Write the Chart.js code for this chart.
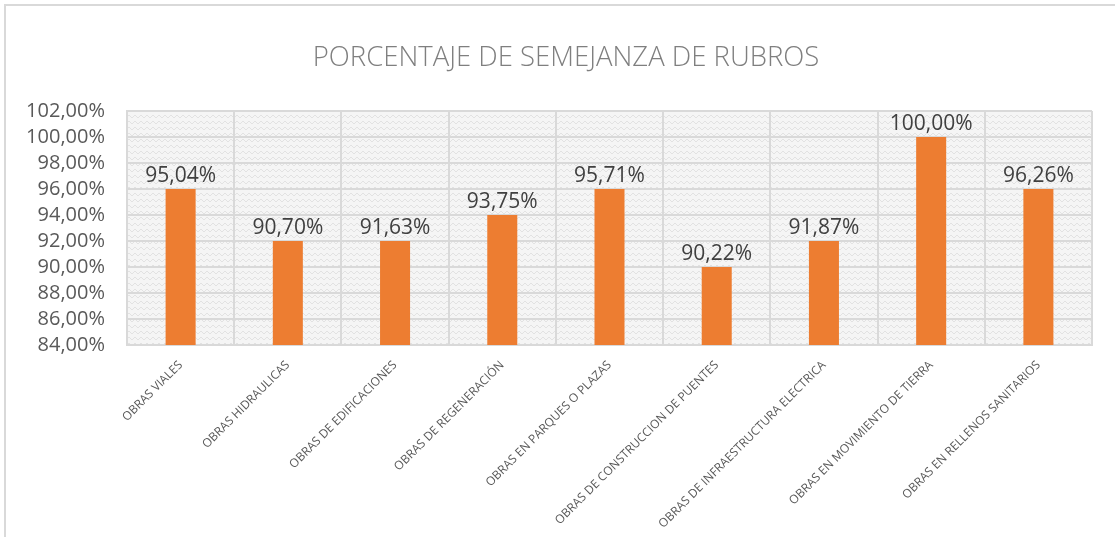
<!DOCTYPE html>
<html>
<head>
<meta charset="utf-8">
<script src="https://cdn.jsdelivr.net/npm/chart.js@4.4.1/dist/chart.umd.min.js"></script>
<style>
    html, body { margin: 0; padding: 0; background: #fff; overflow: hidden; }
    #frame { position: absolute; left: 4px; top: 4px; width: 1120px; height: 560px; border: 2px solid #d9d9d9; }
    #chart { position: absolute; left: 0; top: 0; }
</style>
</head>
<body>
<div id="frame"></div>
<canvas id="chart" width="1115" height="537"></canvas>
<script>
const categories = [
    'OBRAS VIALES',
    'OBRAS HIDRAULICAS',
    'OBRAS DE EDIFICACIONES',
    'OBRAS DE REGENERACIÓN',
    'OBRAS EN PARQUES O PLAZAS',
    'OBRAS DE CONSTRUCCION DE PUENTES',
    'OBRAS DE INFRAESTRUCTURA ELECTRICA',
    'OBRAS EN MOVIMIENTO DE TIERRA',
    'OBRAS EN RELLENOS SANITARIOS'
];
// bar heights as drawn in the picture
const barValues = [96, 92, 92, 94, 96, 90, 92, 100, 96];
// the labels printed above each bar
const barLabels = ['95,04%', '90,70%', '91,63%', '93,75%', '95,71%', '90,22%', '91,87%', '100,00%', '96,26%'];
const yMin = 84, yMax = 102, yStep = 2;
const chartTitle = 'PORCENTAJE DE SEMEJANZA DE RUBROS';

// light textured fill for the plot area
function makePattern(ctx) {
    const c = document.createElement('canvas');
    c.width = 12; c.height = 6;
    const p = c.getContext('2d');
    p.fillStyle = '#f5f5f5';
    p.fillRect(0, 0, 12, 6);
    p.strokeStyle = '#e2e2e2';
    p.lineWidth = 1;
    p.beginPath();
    p.moveTo(0, 4); p.lineTo(3, 1); p.lineTo(6, 4); p.lineTo(9, 1); p.lineTo(12, 4);
    p.stroke();
    return ctx.createPattern(c, 'repeat');
}

const plotBg = {
    id: 'plotBg',
    beforeDraw(chart) {
        const { ctx, chartArea: a } = chart;
        ctx.save();
        ctx.fillStyle = makePattern(ctx);
        ctx.fillRect(a.left, a.top, a.right - a.left, a.bottom - a.top);
        ctx.restore();
    }
};

// title sits centred on the whole picture, not on the plot box
const titleText = {
    id: 'titleText',
    afterDraw(chart) {
        const { ctx } = chart;
        ctx.save();
        ctx.font = '300 27.5px "Open Sans"';
        ctx.fillStyle = '#7f7f7f';
        ctx.textAlign = 'center';
        ctx.textBaseline = 'middle';
        ctx.fillText(chartTitle, 566, 58);
        ctx.restore();
    }
};

const valueLabels = {
    id: 'valueLabels',
    afterDatasetsDraw(chart) {
        const { ctx } = chart;
        const meta = chart.getDatasetMeta(0);
        ctx.save();
        ctx.font = '21px "Open Sans"';
        ctx.fillStyle = '#404040';
        ctx.textAlign = 'center';
        ctx.textBaseline = 'alphabetic';
        meta.data.forEach((bar, i) => {
            ctx.fillText(barLabels[i], bar.x, bar.y - 7);
        });
        ctx.restore();
    }
};

new Chart(document.getElementById('chart').getContext('2d'), {
    type: 'bar',
    data: {
        labels: categories,
        datasets: [{
            data: barValues,
            backgroundColor: '#ED7D31',
            barPercentage: 0.28,
            categoryPercentage: 1
        }]
    },
    options: {
        responsive: false,
        animation: false,
        layout: { padding: { left: 5, right: 23, top: 111, bottom: 0 } },
        plugins: {
            legend: { display: false },
            tooltip: { enabled: false },
            title: { display: false }
        },
        scales: {
            x: {
                grid: { color: '#d9d9d9', lineWidth: 2, drawTicks: false, offset: true },
                border: { color: '#d9d9d9', width: 2 },
                ticks: {
                    color: '#595959',
                    font: { family: 'Open Sans', size: 12 },
                    minRotation: 45,
                    maxRotation: 45,
                    autoSkip: false,
                    padding: 13
                },
                afterFit(scale) { scale.height = 192; }
            },
            y: {
                min: yMin,
                max: yMax,
                grid: { color: '#d9d9d9', lineWidth: 2, drawTicks: false },
                border: { color: '#d9d9d9', width: 2 },
                ticks: {
                    stepSize: yStep,
                    autoSkip: false,
                    color: '#595959',
                    font: { family: 'Open Sans', size: 20 },
                    padding: 22,
                    callback: v => v.toFixed(2).replace('.', ',') + '%'
                },
                afterFit(scale) { scale.width = 122; }
            }
        }
    },
    plugins: [plotBg, titleText, valueLabels]
});
</script>
</body>
</html>
